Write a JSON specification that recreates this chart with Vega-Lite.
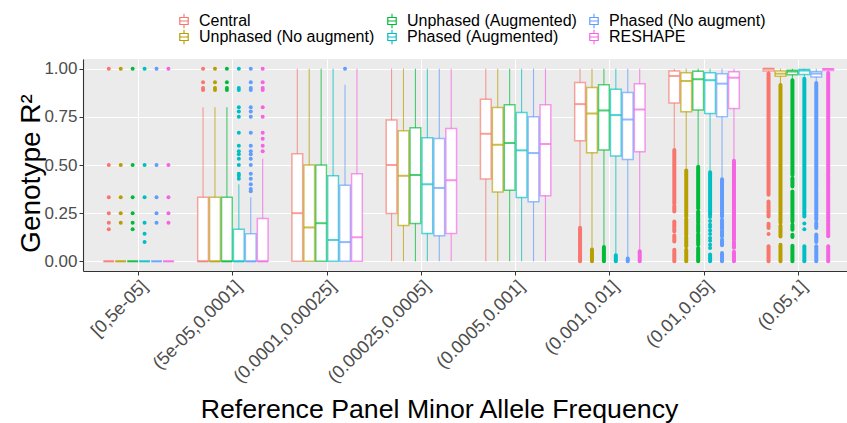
{
  "$schema": "https://vega.github.io/schema/vega-lite/v6.json",
  "width": 764,
  "height": 212,
  "autosize": "none",
  "padding": {"left": 83, "top": 59, "right": 0, "bottom": 152},
  "background": "white",
  "config": {
    "font": "Liberation Sans",
    "view": {"fill": "#EBEBEB", "stroke": null},
    "axis": {"gridColor": "white", "gridWidth": 1.1, "domainColor": "#333333", "domainWidth": 1.1, "tickColor": "#333333", "tickSize": 4, "labelColor": "#4D4D4D", "labelFontSize": 17, "titleColor": "black", "titleFontSize": 26.7, "titleFontWeight": "normal", "labelPadding": 2}
  },
  "datasets": {
    "box": [
      {"c":"[0,5e-05]","g":"Central","lo":0,"q1":0,"med":0,"q3":0,"hi":0},
      {"c":"[0,5e-05]","g":"Unphased (No augment)","lo":0,"q1":0,"med":0,"q3":0,"hi":0},
      {"c":"[0,5e-05]","g":"Unphased (Augmented)","lo":0,"q1":0,"med":0,"q3":0,"hi":0},
      {"c":"[0,5e-05]","g":"Phased (Augmented)","lo":0,"q1":0,"med":0,"q3":0,"hi":0},
      {"c":"[0,5e-05]","g":"Phased (No augment)","lo":0,"q1":0,"med":0,"q3":0,"hi":0},
      {"c":"[0,5e-05]","g":"RESHAPE","lo":0,"q1":0,"med":0,"q3":0,"hi":0},
      {"c":"(5e-05,0.0001]","g":"Central","lo":0,"q1":0,"med":0,"q3":0.333,"hi":0.8},
      {"c":"(5e-05,0.0001]","g":"Unphased (No augment)","lo":0,"q1":0,"med":0,"q3":0.333,"hi":0.8},
      {"c":"(5e-05,0.0001]","g":"Unphased (Augmented)","lo":0,"q1":0,"med":0,"q3":0.333,"hi":0.8},
      {"c":"(5e-05,0.0001]","g":"Phased (Augmented)","lo":0,"q1":0,"med":0,"q3":0.167,"hi":0.4},
      {"c":"(5e-05,0.0001]","g":"Phased (No augment)","lo":0,"q1":0,"med":0,"q3":0.143,"hi":0.333},
      {"c":"(5e-05,0.0001]","g":"RESHAPE","lo":0,"q1":0,"med":0,"q3":0.222,"hi":0.533},
      {"c":"(0.0001,0.00025]","g":"Central","lo":0,"q1":0,"med":0.25,"q3":0.559,"hi":1},
      {"c":"(0.0001,0.00025]","g":"Unphased (No augment)","lo":0,"q1":0,"med":0.176,"q3":0.5,"hi":1},
      {"c":"(0.0001,0.00025]","g":"Unphased (Augmented)","lo":0,"q1":0,"med":0.198,"q3":0.5,"hi":1},
      {"c":"(0.0001,0.00025]","g":"Phased (Augmented)","lo":0,"q1":0,"med":0.111,"q3":0.444,"hi":1},
      {"c":"(0.0001,0.00025]","g":"Phased (No augment)","lo":0,"q1":0,"med":0.1,"q3":0.395,"hi":0.917},
      {"c":"(0.0001,0.00025]","g":"RESHAPE","lo":0,"q1":0,"med":0.125,"q3":0.455,"hi":1},
      {"c":"(0.00025,0.0005]","g":"Central","lo":0,"q1":0.248,"med":0.5,"q3":0.733,"hi":1},
      {"c":"(0.00025,0.0005]","g":"Unphased (No augment)","lo":0,"q1":0.186,"med":0.444,"q3":0.678,"hi":1},
      {"c":"(0.00025,0.0005]","g":"Unphased (Augmented)","lo":0,"q1":0.197,"med":0.448,"q3":0.693,"hi":1},
      {"c":"(0.00025,0.0005]","g":"Phased (Augmented)","lo":0,"q1":0.145,"med":0.4,"q3":0.641,"hi":1},
      {"c":"(0.00025,0.0005]","g":"Phased (No augment)","lo":0,"q1":0.133,"med":0.381,"q3":0.638,"hi":1},
      {"c":"(0.00025,0.0005]","g":"RESHAPE","lo":0,"q1":0.145,"med":0.421,"q3":0.69,"hi":1},
      {"c":"(0.0005,0.001]","g":"Central","lo":0,"q1":0.428,"med":0.662,"q3":0.841,"hi":1},
      {"c":"(0.0005,0.001]","g":"Unphased (No augment)","lo":0,"q1":0.36,"med":0.605,"q3":0.798,"hi":1},
      {"c":"(0.0005,0.001]","g":"Unphased (Augmented)","lo":0,"q1":0.369,"med":0.614,"q3":0.812,"hi":1},
      {"c":"(0.0005,0.001]","g":"Phased (Augmented)","lo":0,"q1":0.331,"med":0.576,"q3":0.772,"hi":1},
      {"c":"(0.0005,0.001]","g":"Phased (No augment)","lo":0,"q1":0.309,"med":0.562,"q3":0.75,"hi":1},
      {"c":"(0.0005,0.001]","g":"RESHAPE","lo":0,"q1":0.34,"med":0.609,"q3":0.812,"hi":1},
      {"c":"(0.001,0.01]","g":"Central","lo":0.18,"q1":0.626,"med":0.816,"q3":0.928,"hi":1},
      {"c":"(0.001,0.01]","g":"Unphased (No augment)","lo":0.068,"q1":0.564,"med":0.767,"q3":0.902,"hi":1},
      {"c":"(0.001,0.01]","g":"Unphased (Augmented)","lo":0.08,"q1":0.578,"med":0.783,"q3":0.917,"hi":1},
      {"c":"(0.001,0.01]","g":"Phased (Augmented)","lo":0.037,"q1":0.547,"med":0.759,"q3":0.893,"hi":1},
      {"c":"(0.001,0.01]","g":"Phased (No augment)","lo":0.02,"q1":0.529,"med":0.736,"q3":0.876,"hi":1},
      {"c":"(0.001,0.01]","g":"RESHAPE","lo":0.058,"q1":0.569,"med":0.788,"q3":0.921,"hi":1},
      {"c":"(0.01,0.05]","g":"Central","lo":0.585,"q1":0.822,"med":0.962,"q3":0.988,"hi":1},
      {"c":"(0.01,0.05]","g":"Unphased (No augment)","lo":0.476,"q1":0.776,"med":0.936,"q3":0.979,"hi":1},
      {"c":"(0.01,0.05]","g":"Unphased (Augmented)","lo":0.496,"q1":0.786,"med":0.945,"q3":0.986,"hi":1},
      {"c":"(0.01,0.05]","g":"Phased (Augmented)","lo":0.468,"q1":0.767,"med":0.94,"q3":0.979,"hi":1},
      {"c":"(0.01,0.05]","g":"Phased (No augment)","lo":0.432,"q1":0.75,"med":0.922,"q3":0.974,"hi":1},
      {"c":"(0.01,0.05]","g":"RESHAPE","lo":0.528,"q1":0.793,"med":0.953,"q3":0.984,"hi":1},
      {"c":"(0.05,1]","g":"Central","lo":0.98,"q1":0.988,"med":1,"q3":1,"hi":1},
      {"c":"(0.05,1]","g":"Unphased (No augment)","lo":0.92,"q1":0.96,"med":0.974,"q3":0.988,"hi":1},
      {"c":"(0.05,1]","g":"Unphased (Augmented)","lo":0.945,"q1":0.968,"med":0.985,"q3":0.992,"hi":1},
      {"c":"(0.05,1]","g":"Phased (Augmented)","lo":0.952,"q1":0.97,"med":0.99,"q3":0.995,"hi":1},
      {"c":"(0.05,1]","g":"Phased (No augment)","lo":0.93,"q1":0.957,"med":0.974,"q3":0.984,"hi":1},
      {"c":"(0.05,1]","g":"RESHAPE","lo":0.982,"q1":0.99,"med":0.998,"q3":1,"hi":1}
    ],
    "strip": [
      {"c":"(0.001,0.01]","g":"Central","a":0,"b":0.175},
      {"c":"(0.001,0.01]","g":"Unphased (No augment)","a":0,"b":0.062},
      {"c":"(0.001,0.01]","g":"Unphased (Augmented)","a":0,"b":0.075},
      {"c":"(0.001,0.01]","g":"Phased (Augmented)","a":0,"b":0.032},
      {"c":"(0.001,0.01]","g":"Phased (No augment)","a":0,"b":0.015},
      {"c":"(0.001,0.01]","g":"RESHAPE","a":0,"b":0.052},
      {"c":"(0.01,0.05]","g":"Central","a":0.302,"b":0.578},
      {"c":"(0.01,0.05]","g":"Central","a":0.259,"b":0.288},
      {"c":"(0.01,0.05]","g":"Central","a":0.175,"b":0.207},
      {"c":"(0.01,0.05]","g":"Central","a":0.155,"b":0.165},
      {"c":"(0.01,0.05]","g":"Central","a":0.103,"b":0.134},
      {"c":"(0.01,0.05]","g":"Central","a":0,"b":0.06},
      {"c":"(0.01,0.05]","g":"Unphased (No augment)","a":0.233,"b":0.471},
      {"c":"(0.01,0.05]","g":"Unphased (No augment)","a":0.138,"b":0.219},
      {"c":"(0.01,0.05]","g":"Unphased (No augment)","a":0.078,"b":0.126},
      {"c":"(0.01,0.05]","g":"Unphased (No augment)","a":0,"b":0.06},
      {"c":"(0.01,0.05]","g":"Unphased (Augmented)","a":0.276,"b":0.491},
      {"c":"(0.01,0.05]","g":"Unphased (Augmented)","a":0.2,"b":0.259},
      {"c":"(0.01,0.05]","g":"Unphased (Augmented)","a":0.155,"b":0.19},
      {"c":"(0.01,0.05]","g":"Unphased (Augmented)","a":0.086,"b":0.142},
      {"c":"(0.01,0.05]","g":"Unphased (Augmented)","a":0,"b":0.069},
      {"c":"(0.01,0.05]","g":"Phased (Augmented)","a":0.241,"b":0.462},
      {"c":"(0.01,0.05]","g":"Phased (Augmented)","a":0,"b":0.035},
      {"c":"(0.01,0.05]","g":"Phased (No augment)","a":0.233,"b":0.426},
      {"c":"(0.01,0.05]","g":"Phased (No augment)","a":0.172,"b":0.216},
      {"c":"(0.01,0.05]","g":"Phased (No augment)","a":0.13,"b":0.16},
      {"c":"(0.01,0.05]","g":"Phased (No augment)","a":0.083,"b":0.114},
      {"c":"(0.01,0.05]","g":"Phased (No augment)","a":0,"b":0.043},
      {"c":"(0.01,0.05]","g":"RESHAPE","a":0.112,"b":0.522},
      {"c":"(0.01,0.05]","g":"RESHAPE","a":0.07,"b":0.1},
      {"c":"(0.01,0.05]","g":"RESHAPE","a":0,"b":0.05},
      {"c":"(0.05,1]","g":"Central","a":0.457,"b":0.975},
      {"c":"(0.05,1]","g":"Central","a":0.397,"b":0.448},
      {"c":"(0.05,1]","g":"Central","a":0.345,"b":0.388},
      {"c":"(0.05,1]","g":"Central","a":0.276,"b":0.31},
      {"c":"(0.05,1]","g":"Central","a":0.233,"b":0.267},
      {"c":"(0.05,1]","g":"Central","a":0.173,"b":0.195},
      {"c":"(0.05,1]","g":"Central","a":0,"b":0.078},
      {"c":"(0.05,1]","g":"Unphased (No augment)","a":0.2,"b":0.915},
      {"c":"(0.05,1]","g":"Unphased (No augment)","a":0.129,"b":0.185},
      {"c":"(0.05,1]","g":"Unphased (No augment)","a":0,"b":0.086},
      {"c":"(0.05,1]","g":"Unphased (Augmented)","a":0.448,"b":0.94},
      {"c":"(0.05,1]","g":"Unphased (Augmented)","a":0.388,"b":0.431},
      {"c":"(0.05,1]","g":"Unphased (Augmented)","a":0.267,"b":0.362},
      {"c":"(0.05,1]","g":"Unphased (Augmented)","a":0.207,"b":0.259},
      {"c":"(0.05,1]","g":"Unphased (Augmented)","a":0.164,"b":0.19},
      {"c":"(0.05,1]","g":"Unphased (Augmented)","a":0.126,"b":0.138},
      {"c":"(0.05,1]","g":"Unphased (Augmented)","a":0,"b":0.081},
      {"c":"(0.05,1]","g":"Phased (Augmented)","a":0.276,"b":0.948},
      {"c":"(0.05,1]","g":"Phased (Augmented)","a":0.233,"b":0.267},
      {"c":"(0.05,1]","g":"Phased (Augmented)","a":0,"b":0.078},
      {"c":"(0.05,1]","g":"Phased (No augment)","a":0.371,"b":0.925},
      {"c":"(0.05,1]","g":"Phased (No augment)","a":0.216,"b":0.362},
      {"c":"(0.05,1]","g":"Phased (No augment)","a":0.173,"b":0.2},
      {"c":"(0.05,1]","g":"Phased (No augment)","a":0.1,"b":0.14},
      {"c":"(0.05,1]","g":"Phased (No augment)","a":0,"b":0.078},
      {"c":"(0.05,1]","g":"RESHAPE","a":0.448,"b":0.978},
      {"c":"(0.05,1]","g":"RESHAPE","a":0.207,"b":0.44},
      {"c":"(0.05,1]","g":"RESHAPE","a":0.13,"b":0.196},
      {"c":"(0.05,1]","g":"RESHAPE","a":0,"b":0.078}
    ],
    "out": [
      {"c":"[0,5e-05]","g":"Central","v":1},{"c":"[0,5e-05]","g":"Central","v":0.5},{"c":"[0,5e-05]","g":"Central","v":0.333},{"c":"[0,5e-05]","g":"Central","v":0.25},{"c":"[0,5e-05]","g":"Central","v":0.2},{"c":"[0,5e-05]","g":"Central","v":0.167},
      {"c":"[0,5e-05]","g":"Unphased (No augment)","v":1},{"c":"[0,5e-05]","g":"Unphased (No augment)","v":0.5},{"c":"[0,5e-05]","g":"Unphased (No augment)","v":0.333},{"c":"[0,5e-05]","g":"Unphased (No augment)","v":0.25},{"c":"[0,5e-05]","g":"Unphased (No augment)","v":0.2},
      {"c":"[0,5e-05]","g":"Unphased (Augmented)","v":1},{"c":"[0,5e-05]","g":"Unphased (Augmented)","v":0.5},{"c":"[0,5e-05]","g":"Unphased (Augmented)","v":0.333},{"c":"[0,5e-05]","g":"Unphased (Augmented)","v":0.25},{"c":"[0,5e-05]","g":"Unphased (Augmented)","v":0.2},{"c":"[0,5e-05]","g":"Unphased (Augmented)","v":0.167},
      {"c":"[0,5e-05]","g":"Phased (Augmented)","v":1},{"c":"[0,5e-05]","g":"Phased (Augmented)","v":0.5},{"c":"[0,5e-05]","g":"Phased (Augmented)","v":0.333},{"c":"[0,5e-05]","g":"Phased (Augmented)","v":0.2},{"c":"[0,5e-05]","g":"Phased (Augmented)","v":0.143},{"c":"[0,5e-05]","g":"Phased (Augmented)","v":0.1},
      {"c":"[0,5e-05]","g":"Phased (No augment)","v":1},{"c":"[0,5e-05]","g":"Phased (No augment)","v":0.5},{"c":"[0,5e-05]","g":"Phased (No augment)","v":0.333},{"c":"[0,5e-05]","g":"Phased (No augment)","v":0.25},{"c":"[0,5e-05]","g":"Phased (No augment)","v":0.2},
      {"c":"[0,5e-05]","g":"RESHAPE","v":1},{"c":"[0,5e-05]","g":"RESHAPE","v":0.5},{"c":"[0,5e-05]","g":"RESHAPE","v":0.333},{"c":"[0,5e-05]","g":"RESHAPE","v":0.25},{"c":"[0,5e-05]","g":"RESHAPE","v":0.2},
      {"c":"(5e-05,0.0001]","g":"Central","v":1},{"c":"(5e-05,0.0001]","g":"Central","v":0.929},{"c":"(5e-05,0.0001]","g":"Central","v":0.9},{"c":"(5e-05,0.0001]","g":"Central","v":0.889},
      {"c":"(5e-05,0.0001]","g":"Unphased (No augment)","v":1},{"c":"(5e-05,0.0001]","g":"Unphased (No augment)","v":0.929},{"c":"(5e-05,0.0001]","g":"Unphased (No augment)","v":0.9},{"c":"(5e-05,0.0001]","g":"Unphased (No augment)","v":0.889},
      {"c":"(5e-05,0.0001]","g":"Unphased (Augmented)","v":1},{"c":"(5e-05,0.0001]","g":"Unphased (Augmented)","v":0.929},{"c":"(5e-05,0.0001]","g":"Unphased (Augmented)","v":0.9},{"c":"(5e-05,0.0001]","g":"Unphased (Augmented)","v":0.889},
      {"c":"(5e-05,0.0001]","g":"Phased (Augmented)","v":1},{"c":"(5e-05,0.0001]","g":"Phased (Augmented)","v":0.9},{"c":"(5e-05,0.0001]","g":"Phased (Augmented)","v":0.889},{"c":"(5e-05,0.0001]","g":"Phased (Augmented)","v":0.8},{"c":"(5e-05,0.0001]","g":"Phased (Augmented)","v":0.778},{"c":"(5e-05,0.0001]","g":"Phased (Augmented)","v":0.75},{"c":"(5e-05,0.0001]","g":"Phased (Augmented)","v":0.667},{"c":"(5e-05,0.0001]","g":"Phased (Augmented)","v":0.6},{"c":"(5e-05,0.0001]","g":"Phased (Augmented)","v":0.571},{"c":"(5e-05,0.0001]","g":"Phased (Augmented)","v":0.556},{"c":"(5e-05,0.0001]","g":"Phased (Augmented)","v":0.533},{"c":"(5e-05,0.0001]","g":"Phased (Augmented)","v":0.5},{"c":"(5e-05,0.0001]","g":"Phased (Augmented)","v":0.455},{"c":"(5e-05,0.0001]","g":"Phased (Augmented)","v":0.444},{"c":"(5e-05,0.0001]","g":"Phased (Augmented)","v":0.429},
      {"c":"(5e-05,0.0001]","g":"Phased (No augment)","v":1},{"c":"(5e-05,0.0001]","g":"Phased (No augment)","v":0.929},{"c":"(5e-05,0.0001]","g":"Phased (No augment)","v":0.9},{"c":"(5e-05,0.0001]","g":"Phased (No augment)","v":0.889},{"c":"(5e-05,0.0001]","g":"Phased (No augment)","v":0.8},{"c":"(5e-05,0.0001]","g":"Phased (No augment)","v":0.778},{"c":"(5e-05,0.0001]","g":"Phased (No augment)","v":0.75},{"c":"(5e-05,0.0001]","g":"Phased (No augment)","v":0.667},{"c":"(5e-05,0.0001]","g":"Phased (No augment)","v":0.6},{"c":"(5e-05,0.0001]","g":"Phased (No augment)","v":0.571},{"c":"(5e-05,0.0001]","g":"Phased (No augment)","v":0.556},{"c":"(5e-05,0.0001]","g":"Phased (No augment)","v":0.533},{"c":"(5e-05,0.0001]","g":"Phased (No augment)","v":0.5},{"c":"(5e-05,0.0001]","g":"Phased (No augment)","v":0.455},{"c":"(5e-05,0.0001]","g":"Phased (No augment)","v":0.429},{"c":"(5e-05,0.0001]","g":"Phased (No augment)","v":0.4},{"c":"(5e-05,0.0001]","g":"Phased (No augment)","v":0.375},{"c":"(5e-05,0.0001]","g":"Phased (No augment)","v":0.364},
      {"c":"(5e-05,0.0001]","g":"RESHAPE","v":1},{"c":"(5e-05,0.0001]","g":"RESHAPE","v":0.929},{"c":"(5e-05,0.0001]","g":"RESHAPE","v":0.9},{"c":"(5e-05,0.0001]","g":"RESHAPE","v":0.889},{"c":"(5e-05,0.0001]","g":"RESHAPE","v":0.8},{"c":"(5e-05,0.0001]","g":"RESHAPE","v":0.75},{"c":"(5e-05,0.0001]","g":"RESHAPE","v":0.667},{"c":"(5e-05,0.0001]","g":"RESHAPE","v":0.636},{"c":"(5e-05,0.0001]","g":"RESHAPE","v":0.6},{"c":"(5e-05,0.0001]","g":"RESHAPE","v":0.571},
      {"c":"(0.0001,0.00025]","g":"Phased (No augment)","v":1},
      {"c":"(0.01,0.05]","g":"Phased (Augmented)","v":0.23},{"c":"(0.01,0.05]","g":"Phased (Augmented)","v":0.21},{"c":"(0.01,0.05]","g":"Phased (Augmented)","v":0.19},{"c":"(0.01,0.05]","g":"Phased (Augmented)","v":0.178},{"c":"(0.01,0.05]","g":"Phased (Augmented)","v":0.16},{"c":"(0.01,0.05]","g":"Phased (Augmented)","v":0.142},{"c":"(0.01,0.05]","g":"Phased (Augmented)","v":0.121},{"c":"(0.01,0.05]","g":"Phased (Augmented)","v":0.107},{"c":"(0.01,0.05]","g":"Phased (Augmented)","v":0.086},{"c":"(0.01,0.05]","g":"Phased (Augmented)","v":0.069},
      {"c":"(0.05,1]","g":"Central","v":0.142},
      {"c":"(0.05,1]","g":"Phased (Augmented)","v":0.196},{"c":"(0.05,1]","g":"Phased (Augmented)","v":0.166}
    ]
  },
  "encoding": {
    "x": {
      "field": "c", "type": "nominal",
      "sort": ["[0,5e-05]","(5e-05,0.0001]","(0.0001,0.00025]","(0.00025,0.0005]","(0.0005,0.001]","(0.001,0.01]","(0.01,0.05]","(0.05,1]"],
      "scale": {"paddingInner": 0, "paddingOuter": 0.053, "align": 0.85},
      "title": "Reference Panel Minor Allele Frequency",
      "axis": {"bandPosition": 0.5, "grid": true, "labelAngle": -45, "labelAlign": "right", "labelBaseline": "top", "labelPadding": 2, "labelFontSize": 18, "titleX": 356, "titleY": 146, "titleAlign": "center", "titleBaseline": "alphabetic"}
    },
    "xOffset": {
      "field": "g", "type": "nominal",
      "sort": ["Central","Unphased (No augment)","Unphased (Augmented)","Phased (Augmented)","Phased (No augment)","RESHAPE"],
      "scale": {"paddingInner": 0.1, "paddingOuter": 1.05}
    }
  },
  "layer": [
    {
      "data": {"name": "box"},
      "mark": {"type": "bar", "filled": false, "fill": "white", "strokeWidth": 1.5, "strokeOpacity": 0.65},
      "encoding": {
        "y": {"field": "q1", "type": "quantitative", "title": "Genotype R²",
          "scale": {"domain": [-0.05, 1.05], "nice": false, "zero": false},
          "axis": {
            "values": [0, 0.125, 0.25, 0.375, 0.5, 0.625, 0.75, 0.875, 1],
            "labelExpr": "datum.value % 0.25 === 0 ? format(datum.value, '.2f') : ''",
            "gridWidth": {"condition": {"test": "datum.value % 0.25 !== 0", "value": 0.55}, "value": 1.1},
            "tickOpacity": {"condition": {"test": "datum.value % 0.25 !== 0", "value": 0}, "value": 1},
            "titleFontSize": 28,
            "titleX": -44, "titleY": 114, "titleAlign": "center", "titleBaseline": "alphabetic", "titleAngle": -90
          }
        },
        "y2": {"field": "q3"},
        "stroke": {
          "field": "g", "type": "nominal",
          "scale": {
            "domain": ["Central","Unphased (Augmented)","Phased (No augment)","Unphased (No augment)","Phased (Augmented)","RESHAPE"],
            "range": ["#F8766D","#00BA38","#619CFF","#B79F00","#00BFC4","#F564E3"]
          },
          "legend": {
            "title": null, "orient": "none", "legendX": 93, "legendY": -46, "columns": 3, "direction": "horizontal",
            "columnPadding": 9, "rowPadding": -2, "labelFontSize": 16, "labelColor": "black", "labelOffset": 7, "labelLimit": 400,
            "symbolType": "M-0.6,-0.5H0.6V0.5H-0.6Z M-0.45,-0.36V0.36H0.45V-0.36Z M-0.45,-0.07H0.45V0.07H-0.45Z M-0.07,-0.9H0.07V-0.5H-0.07Z M-0.07,0.5H0.07V0.9H-0.07Z",
            "symbolSize": 256, "symbolStrokeWidth": 0
          }
        }
      }
    },
    {
      "data": {"name": "box"},
      "mark": {"type": "rule", "strokeWidth": 1.1, "opacity": 0.7},
      "encoding": {
        "y": {"field": "lo", "type": "quantitative", "title": "Genotype R²"},
        "y2": {"field": "q1"},
        "stroke": {"field": "g", "type": "nominal"}
      }
    },
    {
      "data": {"name": "box"},
      "mark": {"type": "rule", "strokeWidth": 1.1, "opacity": 0.7},
      "encoding": {
        "y": {"field": "q3", "type": "quantitative", "title": "Genotype R²"},
        "y2": {"field": "hi"},
        "stroke": {"field": "g", "type": "nominal"}
      }
    },
    {
      "data": {"name": "box"},
      "mark": {"type": "tick", "orient": "horizontal", "thickness": 2, "size": 10.6},
      "encoding": {
        "y": {"field": "med", "type": "quantitative", "title": "Genotype R²"},
        "fill": {"field": "g", "type": "nominal", "legend": null,
          "scale": {
            "domain": ["Central","Unphased (Augmented)","Phased (No augment)","Unphased (No augment)","Phased (Augmented)","RESHAPE"],
            "range": ["#F8766D","#00BA38","#619CFF","#B79F00","#00BFC4","#F564E3"]
          }
        }
      }
    },
    {
      "data": {"name": "strip"},
      "mark": {"type": "rule", "strokeWidth": 4, "strokeCap": "round"},
      "encoding": {
        "y": {"field": "a", "type": "quantitative", "title": "Genotype R²"},
        "y2": {"field": "b"},
        "stroke": {"field": "g", "type": "nominal"}
      }
    },
    {
      "data": {"name": "out"},
      "mark": {"type": "circle", "size": 16, "opacity": 1},
      "encoding": {
        "y": {"field": "v", "type": "quantitative", "title": "Genotype R²"},
        "fill": {"field": "g", "type": "nominal", "legend": null}
      }
    }
  ]
}
